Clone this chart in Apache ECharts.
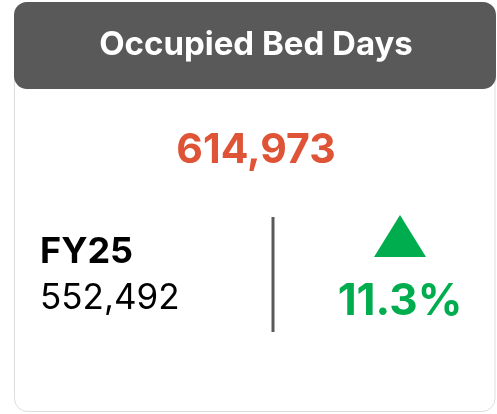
<!DOCTYPE html>
<html>
<head>
<meta charset="utf-8">
<script src="https://cdn.jsdelivr.net/npm/echarts@6/dist/echarts.min.js"></script>
<style>
  html, body { margin: 0; padding: 0; background: #fff; }
  #chart { width: 497px; height: 414px; }
</style>
</head>
<body>
<div id="chart"></div>
<script>
const titles = ['Occupied Bed Days'];
const currentValues = [614973];
const priorLabels = ['FY25'];
const priorValues = [552492];
const changePcts = [11.3];

const fmt = (v) => v.toLocaleString('en-US');
const font = 'Inter, "Open Sans", sans-serif';
const green = '#00ad4e';

const chart = echarts.init(document.getElementById('chart'));
chart.setOption({
    animation: false,
    graphic: [
        // card body
        {
            type: 'rect',
            shape: { x: 14.5, y: 2.5, width: 480.5, height: 409, r: 13 },
            style: { fill: '#fff', stroke: '#dcdcdc', lineWidth: 1 }
        },
        // header
        {
            type: 'rect',
            shape: { x: 14, y: 2, width: 482, height: 87, r: 13 },
            style: { fill: '#595959' }
        },
        {
            type: 'text',
            x: 256, y: 45,
            style: {
                text: titles[0], fill: '#fff', font: 'bold 33px ' + font,
                textAlign: 'center', textVerticalAlign: 'middle'
            }
        },
        {
            type: 'text',
            x: 256, y: 151,
            style: {
                text: fmt(currentValues[0]), fill: '#df5336', font: 'bold 41px ' + font,
                textAlign: 'center', textVerticalAlign: 'middle'
            }
        },
        {
            type: 'text',
            x: 40, y: 252,
            style: {
                text: priorLabels[0], fill: '#000', font: 'bold 36px ' + font,
                textAlign: 'left', textVerticalAlign: 'middle'
            }
        },
        {
            type: 'text',
            x: 40, y: 298,
            style: {
                text: fmt(priorValues[0]), fill: '#000', font: '35px ' + font,
                textAlign: 'left', textVerticalAlign: 'middle'
            }
        },
        // divider
        {
            type: 'line',
            shape: { x1: 273, y1: 217, x2: 273, y2: 332 },
            style: { stroke: '#595959', lineWidth: 3 }
        },
        // up arrow
        {
            type: 'polygon',
            shape: { points: [[400, 215], [426, 257], [374, 257]] },
            style: { fill: changePcts[0] >= 0 ? green : '#df5336' }
        },
        {
            type: 'text',
            x: 400, y: 302,
            style: {
                text: changePcts[0].toFixed(1) + '%', fill: green, font: 'bold 44px ' + font,
                textAlign: 'center', textVerticalAlign: 'middle'
            }
        }
    ]
});
</script>
</body>
</html>
